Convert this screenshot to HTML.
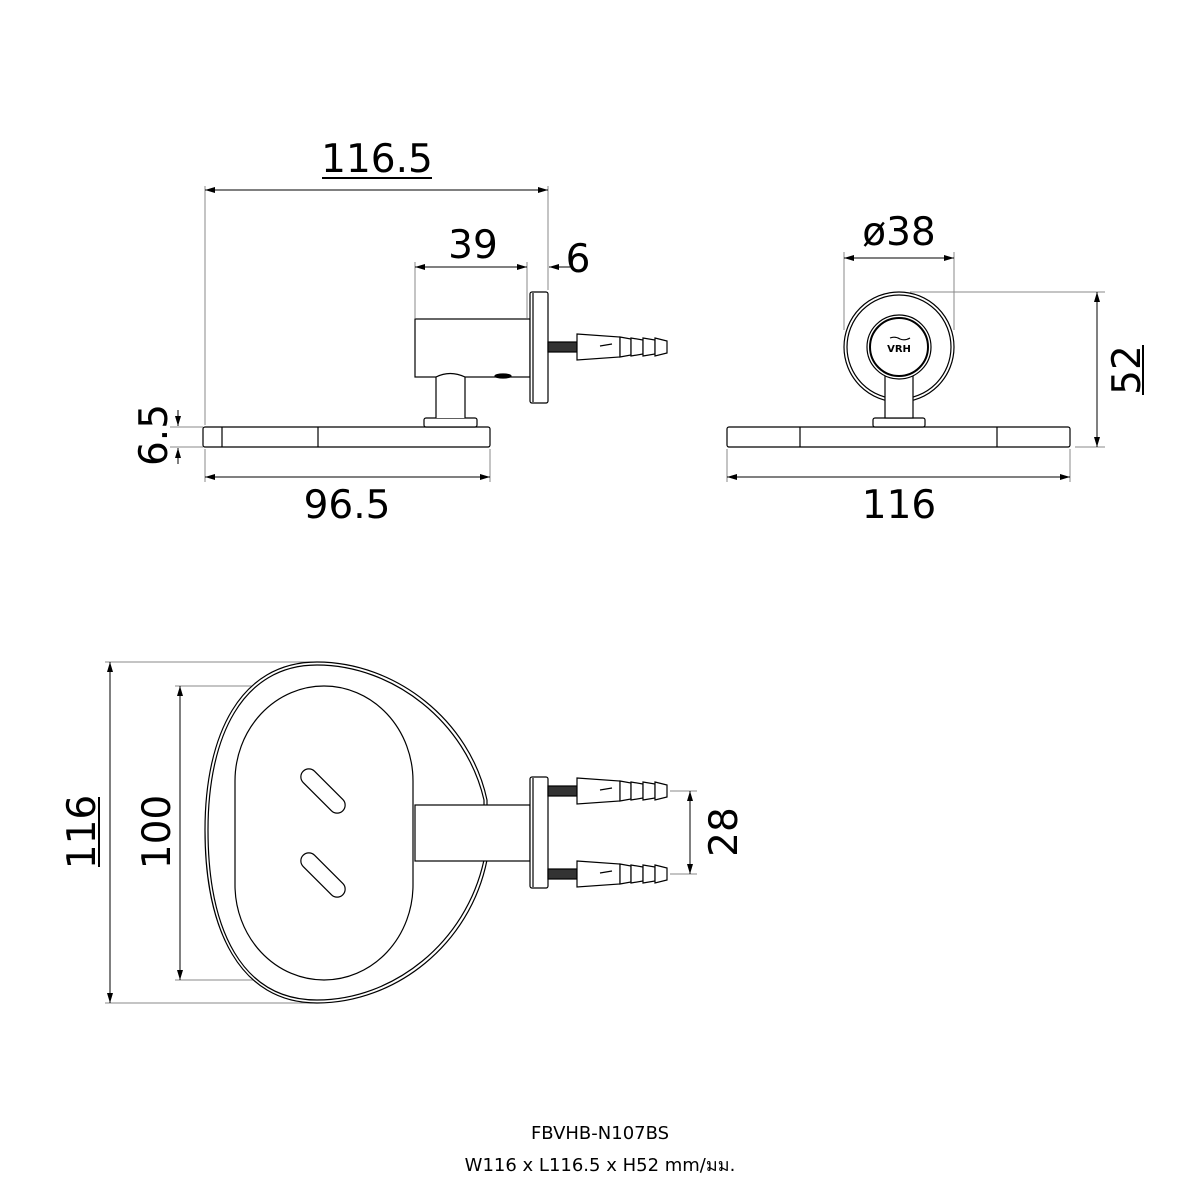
<!DOCTYPE html>
<html><head><meta charset="utf-8"><style>
html,body{margin:0;padding:0;background:#fff}
svg{display:block}
text{font-family:"DejaVu Sans","Liberation Sans",sans-serif;fill:#000}
</style></head><body>
<svg width="1200" height="1200" viewBox="0 0 1200 1200" xmlns="http://www.w3.org/2000/svg">
<defs>
<marker id="ar" viewBox="0 0 10 6" refX="10" refY="3" markerWidth="10" markerHeight="6" orient="auto-start-reverse" markerUnits="userSpaceOnUse">
<path d="M0,0 L10,3 L0,6 Z" fill="#000"/></marker>
<g id="anc" stroke="#000" stroke-width="1.2" fill="#fff">
<rect x="548" y="-5" width="29" height="10" fill="#333"/>
<polygon points="577,-13 620,-10 620,10 577,13"/>
<polygon points="620,-10 631,-8 631,8 620,10"/>
<polygon points="631,-9 643,-7 643,7 631,9"/>
<polygon points="643,-9 655,-7 655,7 643,9"/>
<polygon points="655,-9 667,-6 667,6 655,9"/>
<line x1="600" y1="-1" x2="612" y2="-3"/>
</g>
</defs>

<g stroke="#888" stroke-width="1" fill="none">
<!-- top-left dims ext lines -->
<line x1="205" y1="186" x2="205" y2="425"/>
<line x1="548" y1="186" x2="548" y2="290"/>
<line x1="415" y1="262" x2="415" y2="318"/>
<line x1="527" y1="262" x2="527" y2="318"/>
<line x1="170" y1="427" x2="203" y2="427"/>
<line x1="170" y1="447" x2="203" y2="447"/>
<line x1="205" y1="449" x2="205" y2="482"/>
<line x1="490" y1="449" x2="490" y2="482"/>
<!-- right -->
<line x1="844" y1="252" x2="844" y2="330"/>
<line x1="954" y1="252" x2="954" y2="330"/>
<line x1="910" y1="292" x2="1105" y2="292"/>
<line x1="1075" y1="447" x2="1105" y2="447"/>
<line x1="727" y1="449" x2="727" y2="482"/>
<line x1="1070" y1="449" x2="1070" y2="482"/>
<!-- bottom -->
<line x1="105" y1="662" x2="317" y2="662"/>
<line x1="105" y1="1003" x2="317" y2="1003"/>
<line x1="175" y1="686" x2="300" y2="686"/>
<line x1="175" y1="980" x2="300" y2="980"/>
<line x1="670" y1="791" x2="697" y2="791"/>
<line x1="670" y1="874" x2="697" y2="874"/>
</g>

<g stroke="#000" stroke-width="1" fill="none">
<line x1="205" y1="190" x2="548" y2="190" marker-start="url(#ar)" marker-end="url(#ar)"/>
<line x1="415" y1="267" x2="527" y2="267" marker-start="url(#ar)" marker-end="url(#ar)"/>
<line x1="570" y1="267" x2="549" y2="267" marker-end="url(#ar)"/>
<line x1="178" y1="410" x2="178" y2="426" marker-end="url(#ar)"/>
<line x1="178" y1="464" x2="178" y2="448" marker-end="url(#ar)"/>
<line x1="205" y1="477" x2="490" y2="477" marker-start="url(#ar)" marker-end="url(#ar)"/>
<line x1="844" y1="258" x2="954" y2="258" marker-start="url(#ar)" marker-end="url(#ar)"/>
<line x1="1097" y1="292" x2="1097" y2="447" marker-start="url(#ar)" marker-end="url(#ar)"/>
<line x1="727" y1="477" x2="1070" y2="477" marker-start="url(#ar)" marker-end="url(#ar)"/>
<line x1="110" y1="662" x2="110" y2="1003" marker-start="url(#ar)" marker-end="url(#ar)"/>
<line x1="180" y1="686" x2="180" y2="980" marker-start="url(#ar)" marker-end="url(#ar)"/>
<line x1="690" y1="791" x2="690" y2="874" marker-start="url(#ar)" marker-end="url(#ar)"/>
</g>

<!-- side view -->
<g stroke="#000" stroke-width="1.2" fill="#fff">
<rect x="203" y="427" width="287" height="20" rx="2"/>
<line x1="222" y1="427" x2="222" y2="447"/>
<line x1="318" y1="427" x2="318" y2="447"/>
<rect x="424" y="418" width="53" height="9" rx="2"/>
<rect x="415" y="319" width="115" height="58"/>
<path d="M436,418 L436,377 Q450,370 465,377 L465,418"/>
<ellipse cx="503" cy="376" rx="8" ry="2" fill="#000"/>
<rect x="530" y="292" width="18" height="111" rx="2"/>
<line x1="533" y1="293" x2="533" y2="402"/>
</g>
<use href="#anc" transform="translate(0,347)"/>

<!-- front view -->
<g stroke="#000" stroke-width="1.2" fill="#fff">
<rect x="727" y="427" width="343" height="20" rx="2"/>
<line x1="800" y1="427" x2="800" y2="447"/>
<line x1="997" y1="427" x2="997" y2="447"/>
<rect x="873" y="418" width="52" height="9" rx="2"/>
<circle cx="899" cy="347" r="55"/>
<circle cx="899" cy="347" r="52"/>
<rect x="885" y="370" width="28" height="48"/>
<circle cx="899" cy="347" r="32"/>
<circle cx="899" cy="347" r="29" stroke-width="2"/>
</g>
<path d="M890,338 q5,-2 10,1 q5,2 10,-1" stroke="#000" fill="none" stroke-width="1.2"/>
<text x="899" y="352" font-size="10" text-anchor="middle" font-weight="bold">VRH</text>

<!-- top view -->
<g stroke="#000" stroke-width="1.2" fill="#fff">
<path d="M317,662 C395,662 470,720 487,800 L487,860 C470,945 395,1003 317,1003 C240,1003 205,930 205,830 C205,735 240,662 317,662 Z"/>
<path d="M317,665 C393,665 466,722 484,800 L484,860 C466,943 393,1000 317,1000 C242,1000 208,930 208,830 C208,737 242,665 317,665 Z" fill="none"/>
<rect x="235" y="686" width="178" height="294" rx="89" ry="95"/>
<rect x="295" y="783" width="56" height="16" rx="8" transform="rotate(45 323 791)"/>
<rect x="295" y="867" width="56" height="16" rx="8" transform="rotate(45 323 875)"/>
<rect x="415" y="805" width="115" height="56"/>
<rect x="530" y="777" width="18" height="111" rx="2"/>
<line x1="533" y1="778" x2="533" y2="887"/>
</g>
<use href="#anc" transform="translate(0,791)"/>
<use href="#anc" transform="translate(0,874)"/>

<!-- labels -->
<g font-size="39">
<text x="377" y="172" text-anchor="middle">116.5</text>
<line x1="322" y1="178" x2="432" y2="178" stroke="#000" stroke-width="2"/>
<text x="473" y="258" text-anchor="middle">39</text>
<text x="578" y="272" text-anchor="middle">6</text>
<text transform="translate(167,435) rotate(-90)" text-anchor="middle">6.5</text>
<text x="347" y="518" text-anchor="middle">96.5</text>
<text x="899" y="245" text-anchor="middle">ø38</text>
<text transform="translate(1140,370) rotate(-90)" text-anchor="middle">52</text>
<line x1="1143" y1="345" x2="1143" y2="395" stroke="#000" stroke-width="2"/>
<text x="899" y="518" text-anchor="middle">116</text>
<text transform="translate(95,832) rotate(-90)" text-anchor="middle">116</text>
<line x1="99" y1="797" x2="99" y2="867" stroke="#000" stroke-width="2"/>
<text transform="translate(170,832) rotate(-90)" text-anchor="middle">100</text>
<text transform="translate(737,832) rotate(-90)" text-anchor="middle">28</text>
</g>
<text x="600" y="1139" font-size="18" text-anchor="middle">FBVHB-N107BS</text>
<text x="600" y="1171" font-size="18" text-anchor="middle" style='font-family:"DejaVu Sans","Liberation Sans","Noto Sans CJK SC",sans-serif'>W116 x L116.5 x H52 mm/มม.</text>
</svg>
</body></html>
